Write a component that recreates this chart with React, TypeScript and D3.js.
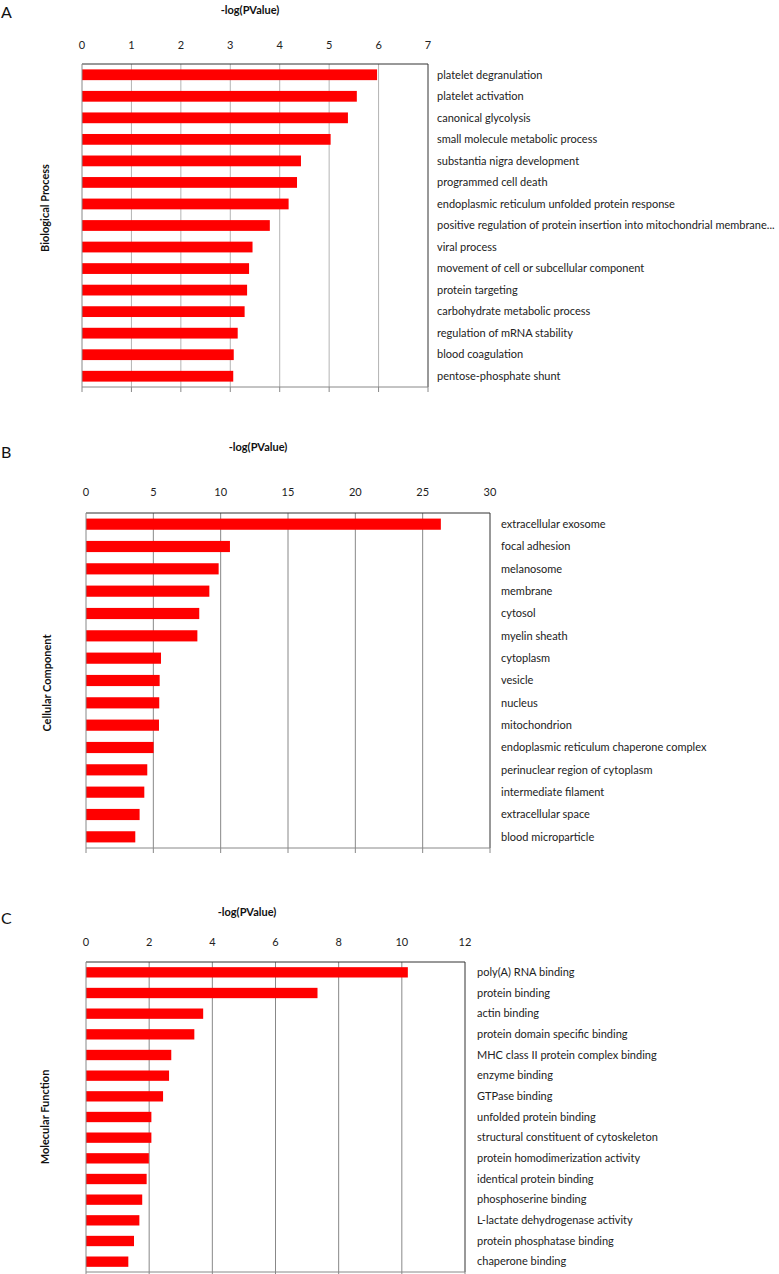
import React from "react";
import * as d3 from "d3";

const bpCategories = [
  "platelet degranulation",
  "platelet activation",
  "canonical glycolysis",
  "small molecule metabolic process",
  "substantia nigra development",
  "programmed cell death",
  "endoplasmic reticulum unfolded protein response",
  "positive regulation of protein insertion into mitochondrial membrane...",
  "viral process",
  "movement of cell or subcellular component",
  "protein targeting",
  "carbohydrate metabolic process",
  "regulation of mRNA stability",
  "blood coagulation",
  "pentose-phosphate shunt",
];
const bpValues = [5.97, 5.56, 5.38, 5.03, 4.43, 4.35, 4.18, 3.8, 3.45, 3.38, 3.34, 3.29, 3.15, 3.07, 3.06];
const bpTicks = [0, 1, 2, 3, 4, 5, 6, 7];

const ccCategories = [
  "extracellular exosome",
  "focal adhesion",
  "melanosome",
  "membrane",
  "cytosol",
  "myelin sheath",
  "cytoplasm",
  "vesicle",
  "nucleus",
  "mitochondrion",
  "endoplasmic reticulum chaperone complex",
  "perinuclear region of cytoplasm",
  "intermediate filament",
  "extracellular space",
  "blood microparticle",
];
const ccValues = [26.35, 10.69, 9.85, 9.16, 8.41, 8.27, 5.57, 5.47, 5.44, 5.42, 5.02, 4.55, 4.33, 3.98, 3.66];
const ccTicks = [0, 5, 10, 15, 20, 25, 30];

const mfCategories = [
  "poly(A) RNA binding",
  "protein binding",
  "actin binding",
  "protein domain specific binding",
  "MHC class II protein complex binding",
  "enzyme binding",
  "GTPase binding",
  "unfolded protein binding",
  "structural constituent of cytoskeleton",
  "protein homodimerization activity",
  "identical protein binding",
  "phosphoserine binding",
  "L-lactate dehydrogenase activity",
  "protein phosphatase binding",
  "chaperone binding",
];
const mfValues = [10.19, 7.33, 3.71, 3.43, 2.7, 2.63, 2.44, 2.07, 2.07, 1.99, 1.92, 1.78, 1.69, 1.52, 1.34];
const mfTicks = [0, 2, 4, 6, 8, 10, 12];

const FONT = "Lato, 'Open Sans', sans-serif";

type PanelProps = {
  letter: string;
  letterY: number;
  axisTitle: string;
  titleX: number;
  titleY: number;
  yTitle: string;
  yTitleX: number;
  yTitleY: number;
  categories: string[];
  values: number[];
  ticks: number[];
  x0: number;
  x1: number;
  top: number;
  bottom: number;
  tickLabelY: number;
  labelX: number;
  gridColor: string;
};

function Panel(p: PanelProps) {
  const max = p.ticks[p.ticks.length - 1];
  const x = d3.scaleLinear().domain([0, max]).range([p.x0, p.x1]);
  const y = d3
    .scaleBand<string>()
    .domain(p.categories)
    .range([p.top, p.bottom])
    .paddingInner(0.5)
    .paddingOuter(0.25);
  return (
    <g>
      <text x={1} y={p.letterY} fontSize={16} fontFamily={FONT} fill="#111">
        {p.letter}
      </text>
      <text
        x={p.titleX}
        y={p.titleY}
        fontSize={11}
        fontWeight="bold"
        fontFamily={FONT}
        textAnchor="middle"
        dominantBaseline="middle"
        fill="#111"
      >
        {p.axisTitle}
      </text>
      <text
        transform={`translate(${p.yTitleX},${p.yTitleY}) rotate(-90)`}
        fontSize={11}
        fontWeight="bold"
        fontFamily={FONT}
        textAnchor="middle"
        dominantBaseline="middle"
        fill="#111"
      >
        {p.yTitle}
      </text>
      {p.ticks.map((t) => (
        <text
          key={"tl" + t}
          x={x(t)}
          y={p.tickLabelY}
          fontSize={11}
          fontFamily={FONT}
          textAnchor="middle"
          dominantBaseline="middle"
          fill="#222"
        >
          {t}
        </text>
      ))}
      {p.ticks.slice(1, -1).map((t) => (
        <line key={"g" + t} x1={x(t)} x2={x(t)} y1={p.top} y2={p.bottom} stroke={p.gridColor} strokeWidth={1} />
      ))}
      {p.ticks.map((t) => (
        <line key={"tk" + t} x1={x(t)} x2={x(t)} y1={p.bottom} y2={p.bottom + 5} stroke="#888" strokeWidth={1} />
      ))}
      {p.categories.map((c, i) => (
        <rect
          key={"b" + c}
          x={x(0)}
          y={y(c)}
          width={x(p.values[i]) - x(0)}
          height={y.bandwidth()}
          fill="#ff0000"
        />
      ))}
      <line x1={p.x0} x2={p.x1} y1={p.top} y2={p.top} stroke="#333" strokeWidth={1} />
      <line x1={p.x1} x2={p.x1} y1={p.top} y2={p.bottom} stroke="#333" strokeWidth={1} />
      <line x1={p.x0} x2={p.x1} y1={p.bottom} y2={p.bottom} stroke="#888" strokeWidth={1} />
      <line x1={p.x0} x2={p.x0} y1={p.top} y2={p.bottom} stroke="#888" strokeWidth={1} />
      {p.categories.map((c) => (
        <text
          key={"l" + c}
          x={p.labelX}
          y={(y(c) as number) + y.bandwidth() / 2 + 1}
          fontSize={11}
          fontFamily={FONT}
          dominantBaseline="middle"
          fill="#222"
        >
          {c}
        </text>
      ))}
    </g>
  );
}

export default function App() {
  return (
    <svg
      width={779}
      height={1274}
      style={{ position: "absolute", left: 0, top: 0, background: "#fff" }}
    >
      <rect x={0} y={0} width={779} height={1274} fill="#fff" />
      <Panel
        letter="A"
        letterY={18}
        axisTitle="-log(PValue)"
        titleX={250}
        titleY={11}
        yTitle="Biological Process"
        yTitleX={46}
        yTitleY={208}
        categories={bpCategories}
        values={bpValues}
        ticks={bpTicks}
        x0={82}
        x1={428}
        top={64}
        bottom={387}
        tickLabelY={46}
        labelX={437}
        gridColor="#b4b4b4"
      />
      <Panel
        letter="B"
        letterY={458}
        axisTitle="-log(PValue)"
        titleX={258}
        titleY={448}
        yTitle="Cellular Component"
        yTitleX={48}
        yTitleY={683}
        categories={ccCategories}
        values={ccValues}
        ticks={ccTicks}
        x0={86}
        x1={490}
        top={513}
        bottom={848}
        tickLabelY={493}
        labelX={501}
        gridColor="#888"
      />
      <Panel
        letter="C"
        letterY={924}
        axisTitle="-log(PValue)"
        titleX={247}
        titleY={913}
        yTitle="Molecular Function"
        yTitleX={46}
        yTitleY={1117}
        categories={mfCategories}
        values={mfValues}
        ticks={mfTicks}
        x0={86}
        x1={465}
        top={962}
        bottom={1272}
        tickLabelY={943}
        labelX={477}
        gridColor="#888"
      />
    </svg>
  );
}
